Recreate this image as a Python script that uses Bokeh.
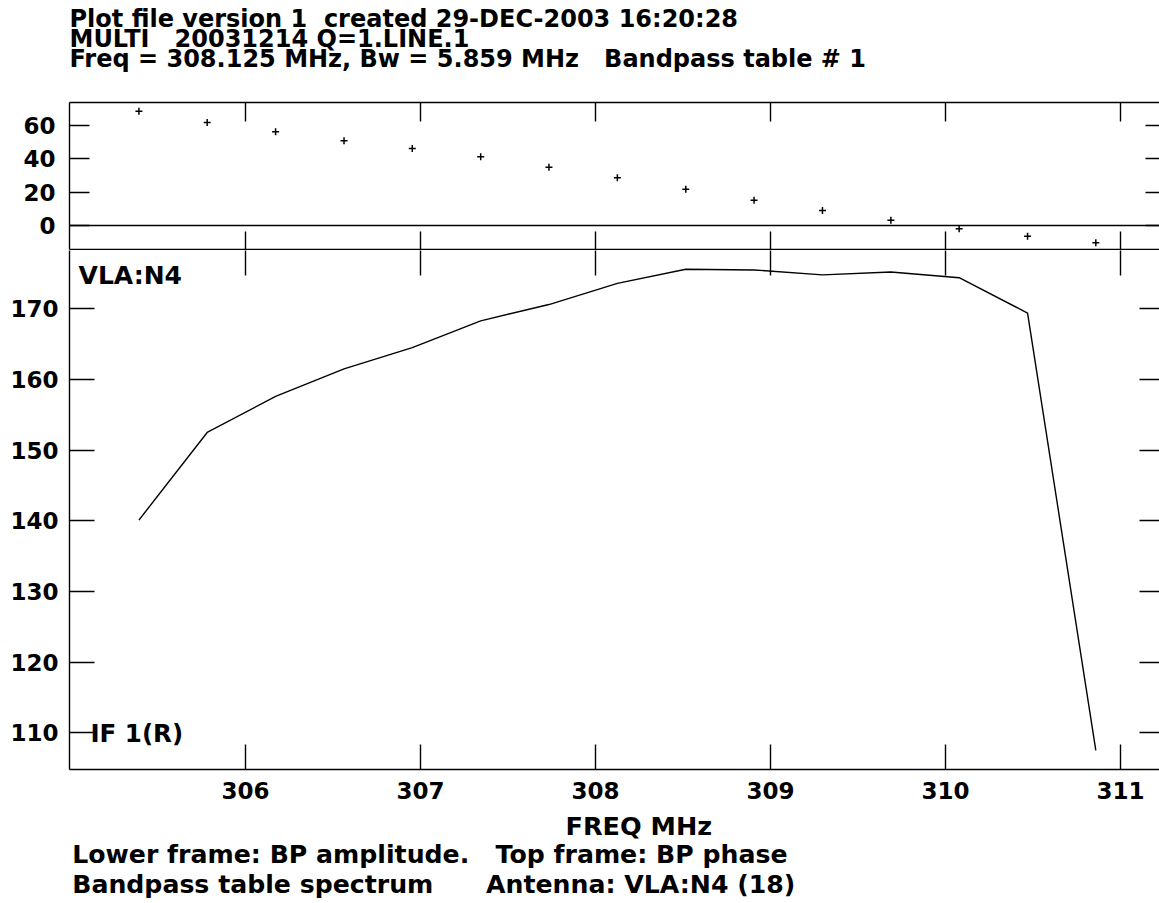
from bokeh.plotting import figure
from bokeh.models import (Range1d, LinearAxis, FixedTicker, Span, Label,
                          CustomJSTickFormatter, ColumnDataSource)
from bokeh.layouts import column
from bokeh.embed import file_html
from bokeh.resources import INLINE

# ---------------- data ----------------
freq_mhz = [305.391, 305.781, 306.172, 306.563, 306.953, 307.344, 307.734,
            308.125, 308.516, 308.906, 309.297, 309.688, 310.078, 310.469, 310.859]
phase_deg = [68.6, 61.8, 56.2, 50.8, 46.2, 41.2, 35.0, 28.6, 21.8, 15.2,
             9.0, 3.2, -2.0, -6.4, -10.4]
amplitude = [140.1, 152.5, 157.6, 161.5, 164.5, 168.3, 170.6, 173.6, 175.6,
             175.5, 174.8, 175.2, 174.4, 169.4, 107.5]
freq_ticks = [306, 307, 308, 309, 310, 311]
phase_ticks = [0, 20, 40, 60]
amp_ticks = [110, 120, 130, 140, 150, 160, 170]

NB = "\u00a0"
title_lines = ["Plot file version 1" + NB * 2 + "created 29-DEC-2003 16:20:28",
               "MULTI" + NB * 3 + "20031214 Q=1.LINE.1",
               "Freq = 308.125 MHz, Bw = 5.859 MHz" + NB * 3 + "Bandpass table # 1"]
x_label = "FREQ MHz"
foot_lines = ["Lower frame: BP amplitude." + NB * 3 + "Top frame: BP phase",
              "Bandpass table spectrum" + NB * 6 + "Antenna: VLA:N4 (18)"]
antenna_label = "VLA:N4"
if_label = "IF 1(R)"

FONT = "DejaVu Sans"
LW = 1.4
W = 1159
LEFT = 69
X0, X1 = 304.9943, 311.2229

src = ColumnDataSource(dict(f=freq_mhz, ph=phase_deg, amp=amplitude))


def style_axis(ax, tick_in, labels=True, standoff=0, line=True):
    ax.major_tick_in = tick_in
    ax.major_tick_out = 0
    ax.minor_tick_line_color = None
    ax.major_tick_line_width = LW
    ax.major_tick_line_color = "black"
    ax.axis_line_width = LW
    ax.axis_line_color = "black" if line else None
    ax.major_label_standoff = standoff
    if labels:
        ax.major_label_text_font = FONT
        ax.major_label_text_font_style = "bold"
        ax.major_label_text_font_size = "23px"
        ax.major_label_text_color = "black"
    else:
        ax.formatter = CustomJSTickFormatter(code="return ''")


def text_label(fig, x, y, txt, size):
    fig.add_layout(Label(x=x, y=y, text=txt, text_font=FONT, text_font_style="bold",
                         text_font_size=size, text_color="black",
                         text_baseline="middle", text_align="left"))


def plain(fig):
    fig.outline_line_color = None
    fig.xgrid.visible = False
    fig.ygrid.visible = False
    fig.background_fill_color = "white"
    fig.border_fill_color = "white"


def text_panel(height):
    # a bare text panel; its frame spans x = LEFT..W and the full height, in pixel units
    f = figure(width=W, height=height, x_range=Range1d(LEFT, W), y_range=Range1d(height, 0),
               output_backend="svg", toolbar_location=None,
               x_axis_location=None, y_axis_location=None,
               min_border_left=LEFT, min_border_right=0, min_border_top=0, min_border_bottom=0)
    plain(f)
    return f


# ---------------- header ----------------
head = text_panel(80)
for txt, yy in zip(title_lines, [18.5, 38.5, 58.0]):
    text_label(head, 69, yy, txt, "24px")

# ---------------- top frame: phase ----------------
top = figure(width=W, height=170, x_range=Range1d(X0, X1), y_range=Range1d(-14.4, 73.8),
             output_backend="svg", toolbar_location=None,
             x_axis_location=None, y_axis_location=None,
             min_border_left=LEFT, min_border_right=0, min_border_top=22, min_border_bottom=1)
plain(top)

ax = LinearAxis(ticker=FixedTicker(ticks=phase_ticks)); style_axis(ax, 20, True, 14)
top.add_layout(ax, "left")
ax = LinearAxis(ticker=FixedTicker(ticks=phase_ticks)); style_axis(ax, 14, False, 0, line=False)
top.add_layout(ax, "right")
ax = LinearAxis(ticker=FixedTicker(ticks=freq_ticks)); style_axis(ax, 19, False, 0)
top.add_layout(ax, "above")
ax = LinearAxis(ticker=FixedTicker(ticks=freq_ticks)); style_axis(ax, 18, False, 0)
top.add_layout(ax, "below")

top.add_layout(Span(location=0, dimension="width", line_color="black", line_width=LW))
top.scatter("f", "ph", source=src, marker="cross", size=7, line_width=1.5, color="black")

# ---------------- lower frame: amplitude ----------------
bot = figure(width=W, height=559, x_range=top.x_range, y_range=Range1d(104.8, 178.25),
             output_backend="svg", toolbar_location=None,
             x_axis_location=None, y_axis_location=None,
             min_border_left=LEFT, min_border_right=0, min_border_top=0, min_border_bottom=40)
plain(bot)

ax = LinearAxis(ticker=FixedTicker(ticks=amp_ticks)); style_axis(ax, 25, True, 11)
bot.add_layout(ax, "left")
ax = LinearAxis(ticker=FixedTicker(ticks=amp_ticks)); style_axis(ax, 20, False, 0, line=False)
bot.add_layout(ax, "right")
ax = LinearAxis(ticker=FixedTicker(ticks=freq_ticks)); style_axis(ax, 25, False, 0, line=False)
bot.add_layout(ax, "above")
ax = LinearAxis(ticker=FixedTicker(ticks=freq_ticks)); style_axis(ax, 25, True, 12)
bot.add_layout(ax, "below")

bot.line("f", "amp", source=src, line_width=LW, color="black")

text_label(bot, 305.046, 174.72, antenna_label, "25px")
text_label(bot, 305.114, 109.86, if_label, "24.5px")

# ---------------- footer ----------------
foot = text_panel(91)
text_label(foot, 565, 16.0, x_label, "25.5px")
text_label(foot, 71.7, 44.5, foot_lines[0], "25.2px")
text_label(foot, 71.7, 74.5, foot_lines[1], "25.2px")

layout = column(head, top, bot, foot, spacing=0)
open("out.html", "w").write(file_html(layout, INLINE))
